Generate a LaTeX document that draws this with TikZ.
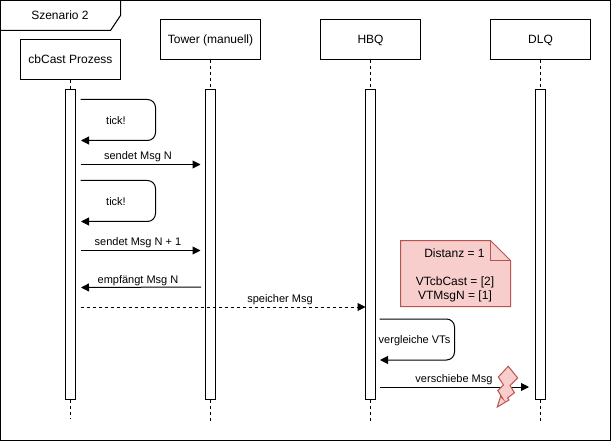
\documentclass[tikz,border=0pt]{standalone}
\usepackage{fontspec}
\setmainfont{Liberation Sans}
\usetikzlibrary{arrows.meta}
\definecolor{noteFill}{HTML}{F8CECC}
\definecolor{noteLine}{HTML}{B85450}
\tikzset{
  head/.style={draw=black, minimum width=100pt, minimum height=40pt, inner sep=0pt, text height=9pt, text depth=0pt, font=\fontsize{12}{14}\selectfont},
  activation/.style={draw=black, fill=white, minimum width=10pt, minimum height=310pt, inner sep=0pt},
  lifeline/.style={dash pattern=on 3pt off 3pt},
  msg/.style={-{Triangle[length=8pt,width=8pt]}},
  lbl/.style={font=\fontsize{11}{13}\selectfont, inner sep=0pt, anchor=base},
  notelbl/.style={font=\fontsize{12}{14}\selectfont, inner sep=0pt, anchor=base}
}
\begin{document}
\begin{tikzpicture}[x=1pt,y=-1pt,line width=1pt]
    \useasboundingbox (0,0) rectangle (611,441);
    \node (frame) [draw=black, minimum width=610pt, minimum height=440pt, inner sep=0pt] at (305.5,220.5) {};
    \node (title) [notelbl] at (60,20) {Szenario 2};
    \draw (0.5,0.5) -- (120.5,0.5) -- (120.5,15.5) -- (110.5,30.5) -- (0.5,30.5);

    \node (cb) [head] at (70.5,59.5) {cbCast Prozess};
    \node (tower) [head] at (210.5,39.5) {Tower (manuell)};
    \node (hbq) [head] at (370.5,39.5) {HBQ};
    \node (dlq) [head] at (540.5,39.5) {DLQ};

    \node (cbA) [activation] at (70.5,244.5) {};
    \node (towerA) [activation] at (210.5,244.5) {};
    \node (hbqA) [activation] at (370.5,244.5) {};
    \node (dlqA) [activation] at (540.5,244.5) {};

    % lifelines below the boxes
    \foreach \name/\px/\py in {cb/70.5/418.5,tower/210.5/420.5,hbq/370.5/420.5,dlq/540.5/420.5}{
      \coordinate (\name End) at (\px,\py);
      \draw[lifeline] (\name) -- (\name A);
      \draw[lifeline] (\name A) -- (\name End);
    }

    % first tick
    \coordinate (t1a) at (80.5,99.5);
    \coordinate (t1b) at (81,140.5);
    \draw[msg, rounded corners=8pt] (t1a) -- (155.5,99.5) -- (155.5,140.5) -- (t1b);
    \node (t1) [lbl] at (116,124.5) {tick!};

    \coordinate (m1a) at (80.5,164.5);
    \coordinate (m1b) at (200.5,164.5);
    \draw[msg] (m1a) -- (m1b);
    \node (m1) [lbl] at (138,160) {sendet Msg N};

    % second tick
    \coordinate (t2a) at (80.5,180.5);
    \coordinate (t2b) at (81,221.5);
    \draw[msg, rounded corners=8pt] (t2a) -- (155.5,180.5) -- (155.5,221.5) -- (t2b);
    \node (t2) [lbl] at (116,205.5) {tick!};

    \coordinate (m2a) at (80.5,250.5);
    \coordinate (m2b) at (200.5,250.5);
    \draw[msg] (m2a) -- (m2b);
    \node (m2) [lbl] at (138,245) {sendet Msg N + 1};

    \coordinate (m3a) at (201,287);
    \coordinate (m3b) at (81,287.5);
    \draw[msg] (m3a) -- (m3b);
    \node (m3) [lbl] at (138,283) {empfängt Msg N};

    \coordinate (m4a) at (80.5,307);
    \coordinate (m4b) at (365.5,307);
    \draw[msg, dash pattern=on 3pt off 3pt] (m4a) -- (m4b);
    \node (m4) [lbl] at (280,302) {speicher Msg};

    % note
    \draw[draw=noteLine, fill=noteFill] (400.5,240.5) -- (490.5,240.5) -- (510.5,260.5) -- (510.5,306.5) -- (400.5,306.5) -- cycle;
    \draw[draw=noteLine] (490.5,240.5) -- (490.5,260.5) -- (510.5,260.5);
    \node (d) [notelbl] at (454.5,257.5) {Distanz = 1};
    \node (v1) [notelbl] at (455,285.5) {VTcbCast = [2]};
    \node (v2) [notelbl] at (455,299.5) {VTMsgN = [1]};

    \coordinate (s1a) at (379.5,319);
    \coordinate (s1b) at (380,360);
    \draw[msg, rounded corners=8pt] (s1a) -- (454.5,319) -- (454.5,360) -- (s1b);
    \node (s1) [lbl] at (414.5,343.5) {vergleiche VTs};

    \coordinate (m5a) at (379.5,387);
    \coordinate (m5b) at (529,387);
    \draw[msg] (m5a) -- (m5b);
    \node (m5) [lbl] at (454,382) {verschiebe Msg};

    \draw[draw=noteLine, fill=noteFill] (508.3,366.3) -- (517.7,378) -- (510,385.5) -- (514.5,392.7) -- (507.5,398) -- (509,400) -- (497.3,407) -- (500.5,396.5) -- (503,399) -- (497.8,390.5) -- (503.5,385) -- (498.3,377) -- cycle;
\end{tikzpicture}
\end{document}
